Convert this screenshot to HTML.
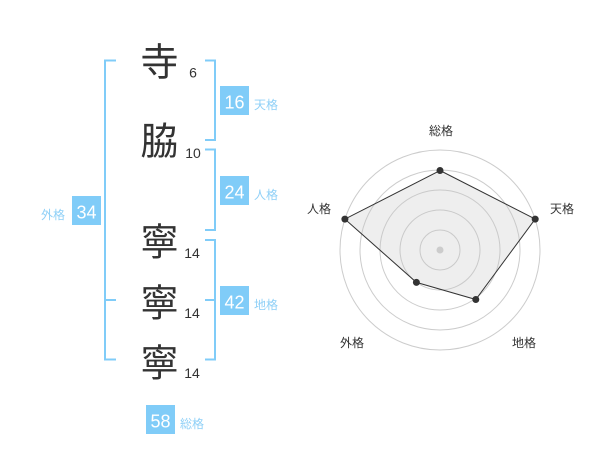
<!DOCTYPE html>
<html>
<head>
<meta charset="utf-8">
<style>
  html,body{margin:0;padding:0;background:#fff;}
  svg{display:block;}
  .kj{font-family:"Liberation Sans","Noto Sans CJK JP",sans-serif;font-size:38px;fill:#333;}
  .st{font-family:"Liberation Sans","Noto Sans CJK JP",sans-serif;font-size:14px;fill:#333;}
  .bn{font-family:"Liberation Sans","Noto Sans CJK JP",sans-serif;font-size:18px;fill:#fff;}
  .lb{font-family:"Liberation Sans","Noto Sans CJK JP",sans-serif;font-size:12px;fill:#8fd0f7;}
  .rl{font-family:"Liberation Sans","Noto Sans CJK JP",sans-serif;font-size:12px;fill:#333;}
</style>
</head>
<body>
<svg width="600" height="470" viewBox="0 0 600 470" xmlns="http://www.w3.org/2000/svg">
  <rect width="600" height="470" fill="#fff"/>

  <!-- brackets -->
  <g fill="none" stroke="#80ccf8" stroke-width="2">
    <path d="M116,60.5 H105 V359.5 H116"/>
    <path d="M105,300 H116"/>
    <path d="M205,60.5 H215 V140 H205"/>
    <path d="M205,149.5 H215 V230 H205"/>
    <path d="M205,240 H215 V359.5 H205"/>
    <path d="M205,300 H215"/>
  </g>

  <!-- kanji -->
  <text class="kj" x="159.5" y="75.5" text-anchor="middle">寺</text>
  <text class="kj" x="159.5" y="154.5" text-anchor="middle">脇</text>
  <text class="kj" x="159.5" y="255.5" text-anchor="middle">寧</text>
  <text class="kj" x="159.5" y="316.5" text-anchor="middle">寧</text>
  <text class="kj" x="159.5" y="376.5" text-anchor="middle">寧</text>

  <!-- stroke counts -->
  <text class="st" x="193" y="77.7" text-anchor="middle">6</text>
  <text class="st" x="193" y="158" text-anchor="middle">10</text>
  <text class="st" x="192" y="258" text-anchor="middle">14</text>
  <text class="st" x="192" y="318" text-anchor="middle">14</text>
  <text class="st" x="192" y="378" text-anchor="middle">14</text>

  <!-- boxes -->
  <g fill="#80ccf8">
    <rect x="220" y="86" width="29" height="29"/>
    <rect x="220" y="176" width="29" height="29"/>
    <rect x="220" y="286" width="29" height="29"/>
    <rect x="72" y="196" width="29" height="29"/>
    <rect x="146" y="405" width="29" height="29"/>
  </g>
  <text class="bn" x="234.5" y="108.7" text-anchor="middle">16</text>
  <text class="bn" x="234.5" y="198.7" text-anchor="middle">24</text>
  <text class="bn" x="234.5" y="308.7" text-anchor="middle">42</text>
  <text class="bn" x="86.5" y="218.7" text-anchor="middle">34</text>
  <text class="bn" x="160.5" y="427.7" text-anchor="middle">58</text>

  <text class="lb" x="254" y="109">天格</text>
  <text class="lb" x="254" y="199">人格</text>
  <text class="lb" x="254" y="309">地格</text>
  <text class="lb" x="41" y="219">外格</text>
  <text class="lb" x="180" y="428">総格</text>

  <!-- radar -->
  <g fill="none" stroke="#cccccc" stroke-width="1">
    <circle cx="440" cy="250" r="100"/>
    <circle cx="440" cy="250" r="80"/>
    <circle cx="440" cy="250" r="60"/>
    <circle cx="440" cy="250" r="40"/>
    <circle cx="440" cy="250" r="20"/>
  </g>
  <polygon points="440,170.5 535.2,219.1 475.8,299.5 416.4,282.4 344.9,219.1" fill="rgba(200,200,200,0.3)" stroke="#333" stroke-width="1"/>
  <circle cx="440" cy="250" r="3.5" fill="#cccccc"/>
  <g fill="#333">
    <circle cx="440" cy="170.5" r="3.5"/>
    <circle cx="535.2" cy="219.1" r="3.5"/>
    <circle cx="475.8" cy="299.5" r="3.5"/>
    <circle cx="416.4" cy="282.4" r="3.5"/>
    <circle cx="344.9" cy="219.1" r="3.5"/>
  </g>

  <text class="rl" x="441" y="135" text-anchor="middle">総格</text>
  <text class="rl" x="562" y="213" text-anchor="middle">天格</text>
  <text class="rl" x="319" y="213" text-anchor="middle">人格</text>
  <text class="rl" x="352" y="347" text-anchor="middle">外格</text>
  <text class="rl" x="524" y="347" text-anchor="middle">地格</text>
</svg>
</body>
</html>
